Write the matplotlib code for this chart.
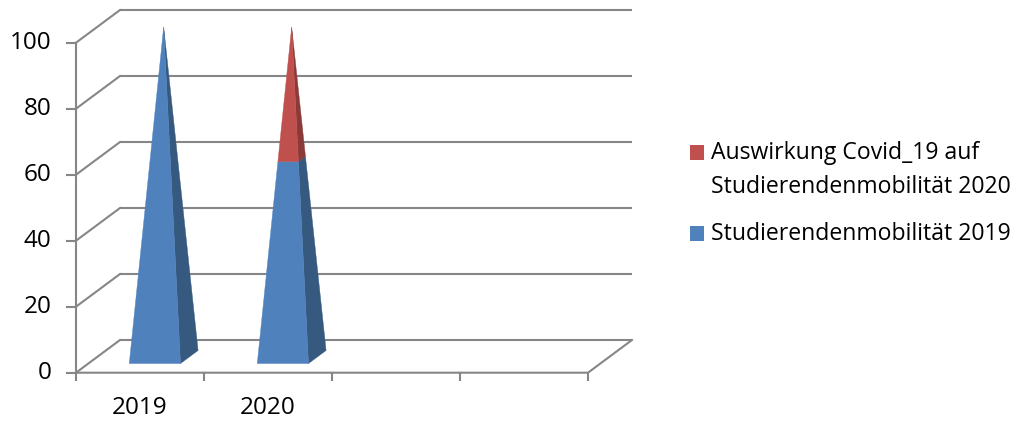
import matplotlib
matplotlib.use("Agg")
import matplotlib.pyplot as plt
from matplotlib.patches import Polygon, Rectangle

# Data
categories = ["2019", "2020", "", ""]
series_names = ["Studierendenmobilität 2019",
                "Auswirkung Covid_19 auf\nStudierendenmobilität 2020"]
mobility = [100, 60, 0, 0]
covid_effect = [0, 40, 0, 0]
yticks = [0, 20, 40, 60, 80, 100]

front_colors = ["#4F81BD", "#C0504D"]
side_colors = ["#36597F", "#8B3A38"]
grid_color = "#868686"

# oblique projection: depth fraction d shifts right/up
DX = 44 / 128
DY = 32.7 / 3.3


def proj(c, v, d):
    return (c + d * DX, v + d * DY)


fig = plt.figure(figsize=(10.23, 4.22), dpi=100)
ax = fig.add_axes([0, 0, 1, 1])
ax.set_xlim(-76 / 128, (1023 - 76) / 128)
ax.set_ylim(-49.3 / 3.3, (422 - 49.3) / 3.3)
ax.axis("off")

ncat = len(categories)
lw = 1.5

# back wall gridlines + left wall diagonals
for v in yticks:
    xs, ys = zip(proj(0, v, 1), proj(ncat, v, 1))
    ax.plot(xs, ys, color=grid_color, lw=lw, solid_capstyle="butt")
    xs, ys = zip(proj(0, v, 0), proj(0, v, 1))
    ax.plot(xs, ys, color=grid_color, lw=lw)
    # tick marks
    ax.plot([0, -0.07], [v, v], color=grid_color, lw=lw)
    ax.text(-0.19, v, str(v), ha="right", va="center",
            fontsize=17.5, family="Open Sans")

# floor
xs, ys = zip(proj(0, 0, 0), proj(ncat, 0, 0), proj(ncat, 0, 1))
ax.plot(xs, ys, color=grid_color, lw=lw)
ax.plot([0, 0], [0, 100], color=grid_color, lw=lw)
for i in range(ncat + 1):
    ax.plot([i, i], [0, -2.1], color=grid_color, lw=lw)
for i, lab in enumerate(categories):
    ax.text(i + 0.5, -10.7, lab, ha="center", va="center",
            fontsize=17.5, family="Open Sans")

# stacked pyramids
d0, d1 = 0.28, 0.68
dm = (d0 + d1) / 2
half = 0.2
for i in range(ncat):
    stack = [mobility[i], covid_effect[i]]
    total = sum(stack)
    if total <= 0:
        continue
    c = i + 0.52
    lo = 0
    for k, val in enumerate(stack):
        if val <= 0:
            continue
        hi = lo + val
        hl = half * (1 - lo / total)
        hh = half * (1 - hi / total)
        front = [proj(c - hl, lo, dm - hl), proj(c + hl, lo, dm - hl),
                 proj(c + hh, hi, dm - hh), proj(c - hh, hi, dm - hh)]
        side = [proj(c + hl, lo, dm - hl), proj(c + hl, lo, dm + hl),
                proj(c + hh, hi, dm + hh), proj(c + hh, hi, dm - hh)]
        ax.add_patch(Polygon(side, closed=True, facecolor=side_colors[k],
                             edgecolor=side_colors[k], lw=0.3, zorder=3))
        ax.add_patch(Polygon(front, closed=True, facecolor=front_colors[k],
                             edgecolor=front_colors[k], lw=0.3, zorder=4))
        lo = hi

# legend (figure pixel coordinates)
W, H = 1023, 422
leg = [(series_names[1], front_colors[1], 145, [159, 193]),
       (series_names[0], front_colors[0], 226, [240])]
for name, col, top, bases in leg:
    fig.patches.append(Rectangle((689.5 / W, 1 - (top + 14.5) / H), 14.5 / W,
                                 14.5 / H, transform=fig.transFigure,
                                 facecolor=col, edgecolor="none"))
    for line, base in zip(name.split("\n"), bases):
        fig.text(711 / W, 1 - base / H, line, ha="left", va="baseline",
                 fontsize=16.6, family="Open Sans")

fig.savefig("out.png", dpi=100)
